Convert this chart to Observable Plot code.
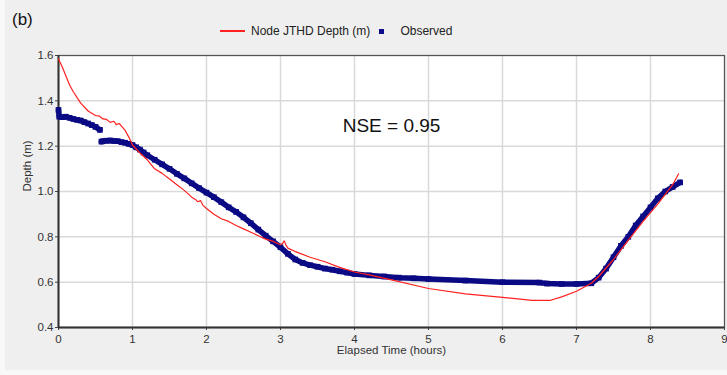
<!DOCTYPE html>
<html><head><meta charset="utf-8">
<script src="https://cdn.jsdelivr.net/npm/d3@7"></script>
<script src="https://cdn.jsdelivr.net/npm/@observablehq/plot@0.6"></script>
<style>
body{margin:0;background:#f8f8f8;font-family:"Liberation Sans",Arial,sans-serif;}
#wrap{position:relative;width:727px;height:370px;background:#efefef;overflow:hidden;}
#edge{position:absolute;left:0;top:0;width:5px;height:370px;background:#f8f8f8;}
#tag{position:absolute;left:12px;top:10px;font-size:17px;color:#111;}
#legend{position:absolute;left:220px;top:24px;font-size:12px;color:#222;display:flex;align-items:center;white-space:nowrap;}
.sw-line{display:inline-block;width:25px;height:1.4px;background:#ff2020;margin-right:6px;}
.sw-sq{display:inline-block;width:5px;height:5px;background:#0c0c8c;margin:0 16px 0 9px;}
#chart svg{position:absolute;left:0;top:0;max-width:none !important;}
</style></head><body>
<div id="wrap"><div id="edge"></div><div id="chart"></div><div id="tag">(b)</div>
<div id="legend"><span class="sw-line"></span><span>Node JTHD Depth (m)</span><span class="sw-sq"></span><span>Observed</span></div></div>
<script>
// Simulated depth (red line)
const simT = [0,0.05,0.1,0.15,0.2,0.3,0.4,0.45,0.5,0.55,0.6,0.65,0.7,0.75,0.78,0.82,0.86,0.9,0.95,1.0,1.1,1.2,1.3,1.4,1.5,1.6,1.7,1.8,1.85,1.88,1.92,1.95,2.0,2.1,2.2,2.3,2.4,2.5,2.6,2.7,2.8,2.9,3.0,3.03,3.05,3.08,3.1,3.2,3.4,3.6,3.8,4.0,4.2,4.5,5.0,5.5,6.0,6.4,6.65,6.8,7.0,7.2,7.3,7.5,7.7,7.9,8.1,8.3,8.38];
const simD = [1.585,1.55,1.51,1.47,1.44,1.39,1.355,1.345,1.335,1.333,1.32,1.318,1.305,1.31,1.295,1.3,1.285,1.27,1.24,1.205,1.17,1.14,1.10,1.08,1.055,1.03,1.005,0.975,0.965,0.955,0.96,0.94,0.925,0.90,0.88,0.868,0.85,0.835,0.82,0.805,0.79,0.78,0.765,0.772,0.782,0.76,0.75,0.735,0.71,0.69,0.665,0.645,0.632,0.61,0.572,0.548,0.533,0.52,0.52,0.535,0.56,0.595,0.625,0.70,0.785,0.868,0.945,1.03,1.078];
// Observed depth (blue squares), two recorded segments
const obsT1 = [0,0.01,0.05,0.1,0.15,0.2,0.25,0.3,0.35,0.4,0.45,0.5,0.56];
const obsD1 = [1.36,1.33,1.328,1.33,1.325,1.32,1.316,1.313,1.306,1.30,1.293,1.285,1.272];
const obsT2 = [0.58,0.6,0.65,0.7,0.75,0.8,0.85,0.9,0.95,1.0,1.05,1.1,1.15,1.2,1.3,1.4,1.5,1.6,1.7,1.8,1.9,2.0,2.1,2.2,2.3,2.4,2.5,2.6,2.7,2.8,2.9,3.0,3.1,3.2,3.3,3.4,3.5,3.6,3.7,3.8,3.9,4.0,4.2,4.4,4.6,4.8,5.0,5.5,6.0,6.5,6.6,6.8,7.0,7.2,7.3,7.4,7.5,7.6,7.7,7.8,7.9,8.0,8.1,8.2,8.3,8.4];
const obsD2 = [1.22,1.222,1.224,1.225,1.223,1.222,1.218,1.215,1.21,1.205,1.195,1.185,1.172,1.16,1.14,1.12,1.10,1.078,1.058,1.036,1.015,0.995,0.975,0.953,0.93,0.91,0.886,0.86,0.832,0.805,0.78,0.754,0.725,0.70,0.685,0.675,0.668,0.66,0.655,0.648,0.642,0.636,0.63,0.625,0.62,0.617,0.614,0.607,0.60,0.598,0.594,0.592,0.592,0.595,0.62,0.66,0.71,0.76,0.80,0.85,0.89,0.93,0.97,1.00,1.02,1.04];
const xTicks = [0,1,2,3,4,5,6,7,8,9];
const yTicks = [0.4,0.6,0.8,1.0,1.2,1.4,1.6];
const xLabel = "Elapsed Time (hours)";
const yLabel = "Depth (m)";
const nseText = "NSE = 0.95";

const sim = simT.map((t,i)=>({t, d: simD[i]}));
const obs = [
  ...obsT1.map((t,i)=>({t, d: obsD1[i], seg: 1})),
  ...obsT2.map((t,i)=>({t, d: obsD2[i], seg: 2}))
];
const font = "Liberation Sans, Arial, sans-serif";
const chart = Plot.plot({
  width: 727, height: 375,
  marginTop: 55, marginRight: 3, marginBottom: 48, marginLeft: 58,
  style: {background: "transparent", fontFamily: font, fontSize: "11px", color: "#333", overflow: "visible", maxWidth: "none"},
  x: {domain: [0, 9]},
  y: {domain: [0.4, 1.6]},
  marks: [
    Plot.frame({fill: "white", stroke: null}),
    Plot.gridX(xTicks, {stroke: "#d9d9d9", strokeOpacity: 1, strokeWidth: 1.5}),
    Plot.gridY(yTicks, {stroke: "#d9d9d9", strokeOpacity: 1, strokeWidth: 1.5}),
    Plot.frame({stroke: "#555", strokeWidth: 1.2}),
    Plot.axisX(xTicks, {tickSize: 3, tickPadding: 4, tickFormat: d => String(d), label: null, stroke: "#444", fill: "#333", fontSize: 11.5}),
    Plot.axisY(yTicks, {tickSize: 3, tickPadding: 2, tickFormat: d => d.toFixed(1), label: null, stroke: "#444", fill: "#333", fontSize: 11.5}),
    Plot.ruleX([0], {stroke: "#333", strokeWidth: 2}),
    Plot.ruleY([0.4], {stroke: "#333", strokeWidth: 2}),
    Plot.line(obs, {x: "t", y: "d", z: "seg", stroke: "#0a0a84", strokeWidth: 5.5}),
    Plot.dot(obs, {x: "t", y: "d", symbol: "square", r: 3.2, fill: "#0a0a84", stroke: null}),
    Plot.line(sim, {x: "t", y: "d", stroke: "#ff2020", strokeWidth: 1.2}),
    Plot.text([nseText], {frameAnchor: "top", dy: 63, fontSize: 19, fill: "#111"}),
    Plot.text([xLabel], {frameAnchor: "bottom", dy: 26, fontSize: 11.5, fill: "#333"}),
    Plot.text([yLabel], {frameAnchor: "left", dx: -31, rotate: -90, fontSize: 11.5, fill: "#333"})
  ]
});
document.getElementById("chart").appendChild(chart);
</script>
</body></html>
